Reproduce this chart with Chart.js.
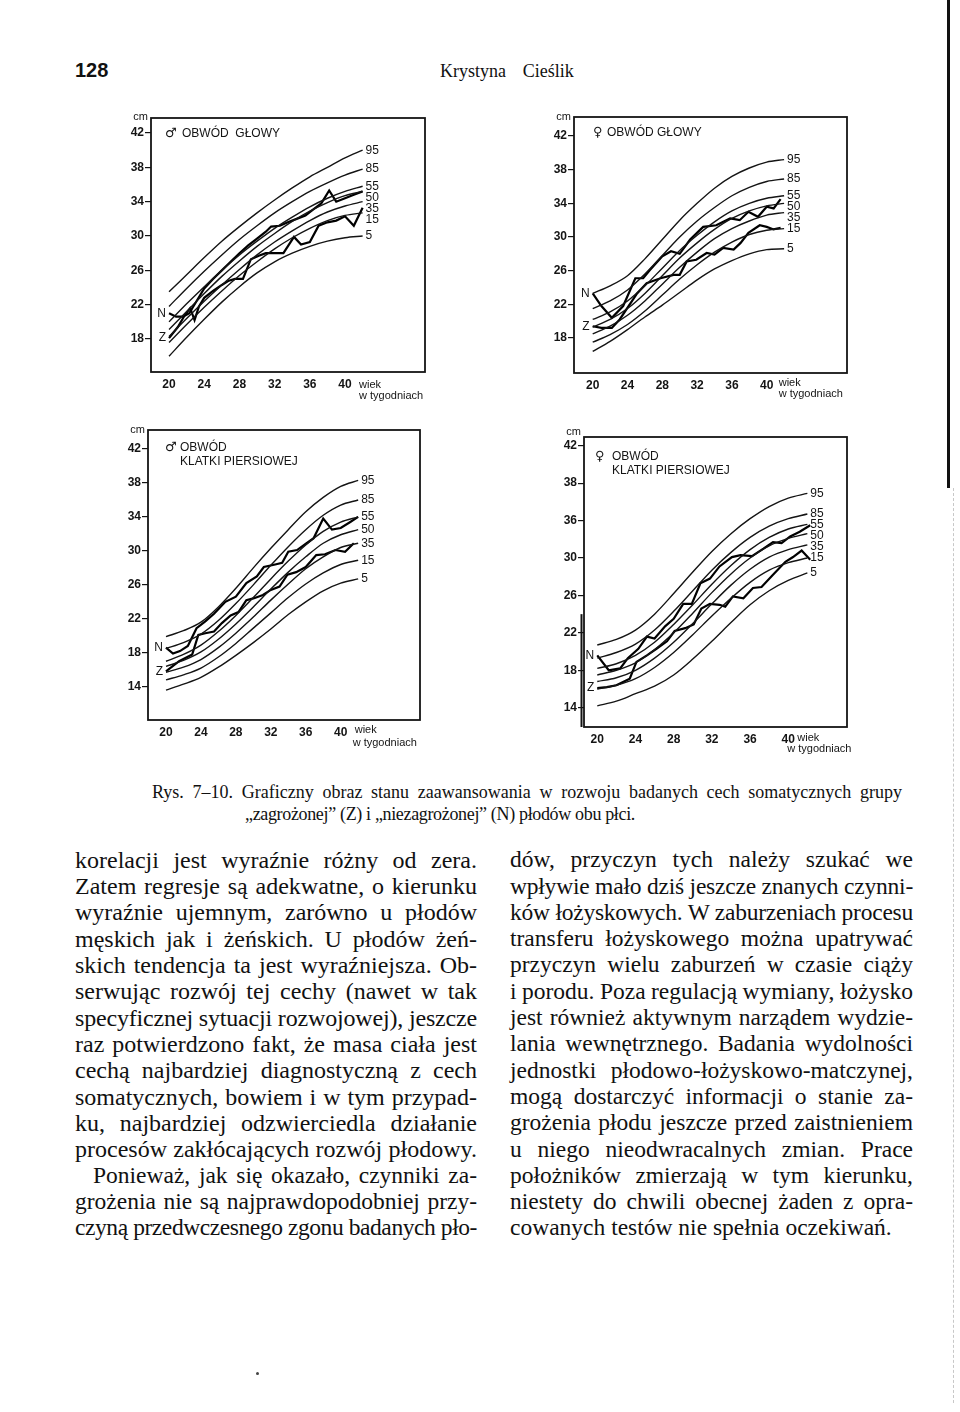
<!DOCTYPE html>
<html>
<head>
<meta charset="utf-8">
<script src="https://cdn.jsdelivr.net/npm/chart.js@4.4.0/dist/chart.umd.min.js"></script>
<style>
  body { margin: 0; width: 960px; height: 1412px; background: #fff; position: relative; overflow: hidden; color: #111; }
  canvas { position: absolute; }
  .t { position: absolute; white-space: nowrap; line-height: 1; }
  .serif { font-family: 'Liberation Serif', 'Times New Roman', serif; }
  .sans { font-family: 'Liberation Sans', Arial, sans-serif; }
</style>
</head>
<body>
<canvas id="maleHead"></canvas>
<canvas id="femaleHead"></canvas>
<canvas id="maleChest"></canvas>
<canvas id="femaleChest"></canvas>
<div style="position:absolute;left:947px;top:0;width:3px;height:488px;background:#111;"></div>
<div style="position:absolute;left:953px;top:488px;width:0;height:915px;border-left:1px dashed #c8c8c8;"></div>
<div style="position:absolute;left:256px;top:1372px;width:3px;height:3px;border-radius:2px;background:#444;"></div>
<script>
// ---- data ----
const weeks = [20, 22, 24, 26, 28, 30, 32, 34, 36, 38, 40, 42];
const percentiles = ['95', '85', '55', '50', '35', '15', '5'];
const xTicks = [20, 24, 28, 32, 36, 40];
const headTicks = [42, 38, 34, 30, 26, 22, 18];
const headTickLabels = ['42', '38', '34', '30', '26', '22', '18'];
const chestTicks = [42, 38, 34, 30, 26, 22, 18, 14];
const maleChestTickLabels = ['42', '38', '34', '30', '26', '22', '18', '14'];
const femaleChestTickLabels = ['42', '38', '36', '30', '26', '22', '18', '14'];

// percentile curves, one row per percentile (95..5), one value per week
const maleHeadCurves = [
  [23.5, 25.5, 27.5, 29.4, 31.1, 32.7, 34.2, 35.6, 36.9, 38.0, 39.1, 40.0],
  [21.8, 23.9, 25.9, 27.8, 29.6, 31.2, 32.7, 34.0, 35.2, 36.2, 37.1, 37.8],
  [20.0, 22.1, 24.1, 26.0, 27.8, 29.4, 30.9, 32.2, 33.4, 34.4, 35.2, 35.8],
  [19.1, 21.2, 23.3, 25.3, 27.1, 28.8, 30.3, 31.7, 32.9, 33.9, 34.7, 35.2],
  [18.3, 20.4, 22.4, 24.3, 26.1, 27.8, 29.3, 30.6, 31.8, 32.8, 33.5, 34.0],
  [17.6, 19.7, 21.7, 23.6, 25.4, 27.0, 28.5, 29.8, 30.9, 31.8, 32.4, 32.7],
  [16.0, 18.2, 20.3, 22.3, 24.1, 25.7, 27.0, 28.0, 28.8, 29.4, 29.8, 30.0]
];
const femaleHeadCurves = [
  [23.3, 24.2, 25.4, 27.4, 29.7, 32.0, 34.0, 35.8, 37.2, 38.2, 38.9, 39.2],
  [21.5, 22.4, 23.7, 25.6, 27.8, 30.0, 31.9, 33.5, 34.9, 35.9, 36.6, 36.9],
  [20.2, 21.1, 22.4, 24.2, 26.3, 28.4, 30.2, 31.8, 33.1, 34.0, 34.6, 34.9],
  [19.3, 20.2, 21.5, 23.3, 25.4, 27.5, 29.3, 30.9, 32.2, 33.1, 33.7, 34.0],
  [18.5, 19.4, 20.7, 22.4, 24.4, 26.4, 28.2, 29.8, 31.0, 31.9, 32.6, 32.9],
  [17.5, 18.4, 19.6, 21.2, 23.1, 25.0, 26.7, 28.2, 29.4, 30.3, 30.8, 31.0],
  [16.4, 17.6, 19.0, 20.5, 21.9, 23.4, 24.9, 26.2, 27.2, 28.0, 28.5, 28.6]
];
const maleChestCurves = [
  [19.9, 20.6, 21.6, 23.4, 25.6, 28.0, 30.3, 32.5, 34.6, 36.3, 37.6, 38.3],
  [18.5, 19.2, 20.2, 21.8, 23.8, 26.0, 28.3, 30.5, 32.5, 34.2, 35.4, 36.0],
  [17.0, 17.8, 18.9, 20.5, 22.4, 24.5, 26.7, 28.8, 30.7, 32.3, 33.4, 34.0],
  [16.4, 17.1, 18.1, 19.6, 21.4, 23.4, 25.5, 27.5, 29.3, 30.9, 31.9, 32.5],
  [15.7, 16.3, 17.2, 18.6, 20.3, 22.2, 24.2, 26.1, 27.9, 29.3, 30.4, 30.9],
  [14.8, 15.4, 16.2, 17.5, 19.1, 20.9, 22.7, 24.5, 26.1, 27.4, 28.4, 28.9],
  [13.6, 14.3, 15.1, 16.3, 17.7, 19.2, 20.8, 22.5, 24.0, 25.3, 26.2, 26.7]
];
const femaleChestCurves = [
  [20.7, 21.3, 22.3, 24.0, 26.2, 28.5, 30.7, 32.6, 34.2, 35.5, 36.4, 36.9],
  [19.3, 19.9, 20.8, 22.3, 24.3, 26.5, 28.7, 30.6, 32.2, 33.4, 34.2, 34.7],
  [18.2, 18.7, 19.6, 21.0, 22.9, 25.0, 27.2, 29.2, 30.9, 32.2, 33.1, 33.6],
  [17.5, 18.0, 18.8, 20.2, 22.0, 24.1, 26.3, 28.3, 30.0, 31.3, 32.1, 32.6],
  [16.8, 17.2, 18.0, 19.3, 21.0, 23.0, 25.1, 27.1, 28.8, 30.1, 30.9, 31.4],
  [16.0, 16.4, 17.1, 18.3, 19.9, 21.8, 23.8, 25.7, 27.4, 28.7, 29.5, 30.0],
  [14.2, 14.7, 15.5, 16.3, 17.5, 19.2, 21.1, 23.1, 25.0, 26.5, 27.6, 28.4]
];

// N (niezagrożona) and Z (zagrożona) groups: [week, cm]
const maleHeadN = [[20,21.0],[20.8,20.6],[21.6,20.6],[22.3,21.0],[23,22.2],[24,23.9],[25,25.0],[26,26.0],[27,27.0],[28,28.0],[29,28.9],[30,29.7],[31,30.5],[31.6,31.1],[32.6,31.2],[33.5,31.6],[34.5,32.0],[35.5,32.4],[36.4,33.1],[37.3,33.8],[38.2,35.3],[39,34.0],[40,34.4],[41,34.8],[42,35.2]];
const maleHeadZ = [[20,18.1],[21,19.4],[21.8,20.8],[22.4,21.6],[22.9,20.2],[23.4,21.8],[24,22.8],[25,23.6],[26,24.3],[26.8,24.8],[27.5,25.0],[28.4,25.0],[29.3,27.3],[30.2,27.7],[31,28.0],[32,28.0],[33,28.0],[34.2,29.9],[35,29.0],[36,29.3],[37,31.2],[38,31.6],[39,31.8],[40,32.3],[41,31.2],[42,33.3]];
const femaleHeadN = [[20,23.3],[21,21.8],[22.2,20.4],[23.5,21.8],[24.9,25.1],[25.8,25.1],[26.6,26.1],[28,27.7],[29,28.3],[30,28.0],[31.2,29.7],[32.7,31.2],[34.2,31.4],[35.8,32.2],[36.9,32.0],[37.9,33.0],[39,32.4],[40,33.6],[40.8,33.4],[41.6,34.5]];
const femaleHeadZ = [[20,19.4],[21,19.2],[22.2,19.2],[23.1,20.2],[25.1,23.3],[26.2,24.5],[27.8,25.1],[29.3,25.5],[30,25.5],[30.8,27.1],[31.9,27.3],[33.1,28.1],[34,27.9],[35,28.7],[36.2,28.5],[37,29.3],[37.9,30.5],[39.2,31.4],[40,31.2],[40.8,30.9],[41.6,31.1]];
const maleChestN = [[20,18.6],[20.8,17.9],[21.6,18.2],[22.5,18.8],[23.5,20.9],[24.5,21.7],[25.5,22.6],[26.8,24.0],[28,24.6],[29.2,26.2],[30.4,27.0],[31.2,28.1],[32.5,28.4],[33.3,28.6],[34,29.9],[35,30.1],[36.1,30.9],[36.9,31.5],[38,33.8],[39,32.5],[40,32.7],[41.1,33.4],[42,34.0]];
const maleChestZ = [[20,15.8],[21.5,17.0],[23,17.8],[23.7,20.1],[24.5,20.3],[25.5,20.5],[26.4,21.5],[27.4,22.4],[28.3,22.8],[29.2,24.2],[30,24.4],[31.1,24.8],[32,25.4],[33,25.8],[33.9,27.2],[34.9,27.5],[36,28.1],[37.2,29.5],[38.2,29.6],[39.4,30.1],[40.5,29.9],[41.5,30.9]];
const femaleChestN = [[20,19.6],[21.2,18.0],[22.4,18.2],[23.2,19.3],[24.3,20.3],[25.2,21.6],[26,21.4],[27.1,22.7],[28,23.5],[29,25.1],[29.9,25.1],[30.8,27.3],[31.8,27.8],[32.8,29.1],[34.1,30.1],[35,30.3],[36.2,30.2],[37.4,31.0],[38.4,31.7],[39.3,31.6],[40.2,32.3],[41.2,32.8],[42.3,33.5]];
const femaleChestZ = [[20,16.1],[21,16.2],[22,16.4],[23.4,17.1],[24.1,18.9],[25.2,19.6],[26.2,20.3],[27.3,21.1],[28.1,22.2],[29.2,22.5],[30.1,22.9],[30.9,24.6],[31.8,25.1],[32.8,25.0],[33.4,24.8],[34.2,25.9],[35.3,25.7],[36.3,26.8],[37.2,26.9],[38.4,28.2],[39.7,29.6],[40.5,30.1],[41.4,30.8],[42.3,29.8]];

// ---- layout ----
const Y_W = 40, PAD_TOP = 22, PAD_RIGHT = 50, X_H = 45;

// frame boxes and axis ranges matched to the scan
const charts = [
  { id: 'maleHead', frame: { l: 151, r: 425, t: 118, b: 372 }, x: [17.95, 49.09], y: [14.16, 43.75],
    yTicks: headTicks, yLabels: headTickLabels, curves: maleHeadCurves, n: maleHeadN, z: maleHeadZ,
    symbol: '♂', title: ['OBWÓD  GŁOWY'], symDx: 14, textDx: 31, titleDy: 16, cmDy: -1,
    wiekDx: 14, wiekDy: 13, tygDx: 14, tygDy: 24 },
  { id: 'femaleHead', frame: { l: 574, r: 847, t: 117, b: 373 }, x: [17.85, 49.23], y: [13.84, 44.26],
    yTicks: headTicks, yLabels: headTickLabels, curves: femaleHeadCurves, n: femaleHeadN, z: femaleHeadZ,
    symbol: '♀', title: ['OBWÓD GŁOWY'], symDx: 19, textDx: 33, titleDy: 16, cmDy: 0,
    wiekDx: 12, wiekDy: 10, tygDx: 12, tygDy: 21 },
  { id: 'maleChest', frame: { l: 148, r: 420, t: 430, b: 720 }, x: [17.94, 49.08], y: [10.08, 44.24],
    yTicks: chestTicks, yLabels: maleChestTickLabels, curves: maleChestCurves, n: maleChestN, z: maleChestZ,
    symbol: '♂', title: ['OBWÓD', 'KLATKI PIERSIOWEJ'], symDx: 17, textDx: 32, titleDy: 18, cmDy: 0,
    wiekDx: 14, wiekDy: 10, tygDx: 12, tygDy: 23 },
  { id: 'femaleChest', frame: { l: 584, r: 847, t: 437, b: 727 }, x: [18.61, 46.15], y: [11.94, 42.93],
    yTicks: chestTicks, yLabels: femaleChestTickLabels, curves: femaleChestCurves, n: femaleChestN, z: femaleChestZ,
    symbol: '♀', title: ['OBWÓD', 'KLATKI PIERSIOWEJ'], symDx: 11, textDx: 28, titleDy: 20, cmDy: -5,
    wiekDx: 9, wiekDy: 11, tygDx: -1, tygDy: 22, doubleLeft: 24 }
];

const INK = '#141414';
const SANS = '"Liberation Sans", Arial, sans-serif';

const overlay = {
  id: 'overlay',
  afterDraw(chart, args, o) {
    const ctx = chart.ctx, a = chart.chartArea;
    const xs = chart.scales.x, ys = chart.scales.y;
    ctx.save();
    ctx.strokeStyle = INK;
    ctx.lineWidth = 1.8;
    ctx.strokeRect(a.left, a.top, a.right - a.left, a.bottom - a.top);
    if (o.doubleLeft) {
      ctx.lineWidth = 2;
      ctx.beginPath();
      ctx.moveTo(a.left - 2.5, ys.getPixelForValue(o.doubleLeft));
      ctx.lineTo(a.left - 2.5, a.bottom);
      ctx.stroke();
    }
    ctx.fillStyle = INK;
    ctx.textBaseline = 'middle';

    // unit
    ctx.font = '11px ' + SANS;
    ctx.textAlign = 'right';
    ctx.fillText('cm', a.left - 3, a.top + o.cmDy);

    // x axis caption after the last tick
    ctx.textAlign = 'left';
    const x40 = xs.getPixelForValue(40);
    ctx.fillText('wiek', x40 + o.wiekDx, a.bottom + o.wiekDy);
    ctx.fillText('w tygodniach', x40 + o.tygDx, a.bottom + o.tygDy);

    // title
    ctx.font = '13px "DejaVu Sans", sans-serif';
    ctx.fillText(o.symbol, a.left + o.symDx, a.top + o.titleDy);
    ctx.font = '12px ' + SANS;
    o.title.forEach((line, i) => ctx.fillText(line, a.left + o.textDx, a.top + o.titleDy + i * 14));

    // percentile labels at the curve ends, spread so they do not overlap
    ctx.font = '12px ' + SANS;
    let prev = -Infinity;
    percentiles.forEach((lab, i) => {
      const pts = chart.data.datasets[i].data;
      const last = pts[pts.length - 1];
      let y = ys.getPixelForValue(last.y);
      if (y - prev < 11) y = prev + 11;
      prev = y;
      ctx.fillText(lab, xs.getPixelForValue(last.x) + 3, y);
    });

    // group labels at the start of N and Z
    ctx.font = '12px ' + SANS;
    ctx.textAlign = 'right';
    ['N', 'Z'].forEach((lab, k) => {
      const p = chart.data.datasets[percentiles.length + k].data[0];
      ctx.fillText(lab, xs.getPixelForValue(p.x) - 3, ys.getPixelForValue(p.y));
    });
    ctx.restore();
  }
};

Chart.defaults.font.family = SANS;
Chart.defaults.color = INK;

charts.forEach(c => {
  const canvas = document.getElementById(c.id);
  const f = c.frame;
  canvas.width = Y_W + (f.r - f.l) + PAD_RIGHT;
  canvas.height = PAD_TOP + (f.b - f.t) + X_H;
  canvas.style.left = (f.l - Y_W) + 'px';
  canvas.style.top = (f.t - PAD_TOP) + 'px';

  const datasets = c.curves.map(row => ({
    data: weeks.map((w, j) => ({ x: w, y: row[j] })),
    borderColor: INK, borderWidth: 1.4, pointRadius: 0,
    cubicInterpolationMode: 'monotone'
  }));
  [c.n, c.z].forEach(series => datasets.push({
    data: series.map(p => ({ x: p[0], y: p[1] })),
    borderColor: '#000', borderWidth: 2.2, pointRadius: 0, tension: 0
  }));

  new Chart(canvas, {
    type: 'line',
    data: { datasets },
    options: {
      responsive: false,
      animation: false,
      devicePixelRatio: 1,
      layout: { padding: { top: PAD_TOP, right: PAD_RIGHT, left: 0, bottom: 0 } },
      plugins: {
        legend: { display: false },
        tooltip: { enabled: false },
        overlay: c
      },
      scales: {
        x: {
          type: 'linear', min: c.x[0], max: c.x[1],
          afterBuildTicks: s => { s.ticks = xTicks.map(v => ({ value: v })); },
          afterFit: s => { s.height = X_H; },
          grid: { display: false, drawTicks: false },
          border: { display: false },
          ticks: { padding: 5, autoSkip: false, maxRotation: 0, font: { size: 12, weight: 'bold' } }
        },
        y: {
          type: 'linear', min: c.y[0], max: c.y[1],
          afterBuildTicks: s => { s.ticks = c.yTicks.map(v => ({ value: v })); },
          afterFit: s => { s.width = Y_W; },
          grid: { drawOnChartArea: false, drawTicks: true, tickLength: 6, color: INK, lineWidth: 1.2 },
          border: { display: false },
          ticks: {
            padding: 1, autoSkip: false, font: { size: 12, weight: 'bold' },
            callback: v => c.yLabels[c.yTicks.indexOf(v)]
          }
        }
      }
    },
    plugins: [overlay]
  });
});

// ---- page text ----
const pageNumber = '128';
const runningHead = 'Krystyna  Cieślik';
const captionLines = [
  'Rys. 7–10. Graficzny obraz stanu zaawansowania w rozwoju badanych cech somatycznych grupy',
  '„zagrożonej” (Z) i „niezagrożonej” (N) płodów obu płci.'
];
const leftColumn = [
  'korelacji jest wyraźnie różny od zera.',
  'Zatem regresje są adekwatne, o kierunku',
  'wyraźnie ujemnym, zarówno u płodów',
  'męskich jak i żeńskich. U płodów żeń-',
  'skich tendencja ta jest wyraźniejsza. Ob-',
  'serwując rozwój tej cechy (nawet w tak',
  'specyficznej sytuacji rozwojowej), jeszcze',
  'raz potwierdzono fakt, że masa ciała jest',
  'cechą najbardziej diagnostyczną z cech',
  'somatycznych, bowiem i w tym przypad-',
  'ku, najbardziej odzwierciedla działanie',
  'procesów zakłócających rozwój płodowy.',
  'Ponieważ, jak się okazało, czynniki za-',
  'grożenia nie są najprawdopodobniej przy-',
  'czyną przedwczesnego zgonu badanych pło-'
];
const rightColumn = [
  'dów, przyczyn tych należy szukać we',
  'wpływie mało dziś jeszcze znanych czynni-',
  'ków łożyskowych. W zaburzeniach procesu',
  'transferu łożyskowego można upatrywać',
  'przyczyn wielu zaburzeń w czasie ciąży',
  'i porodu. Poza regulacją wymiany, łożysko',
  'jest również aktywnym narządem wydzie-',
  'lania wewnętrznego. Badania wydolności',
  'jednostki płodowo-łożyskowo-matczynej,',
  'mogą dostarczyć informacji o stanie za-',
  'grożenia płodu jeszcze przed zaistnieniem',
  'u niego nieodwracalnych zmian. Prace',
  'położników zmierzają w tym kierunku,',
  'niestety do chwili obecnej żaden z opra-',
  'cowanych testów nie spełnia oczekiwań.'
];

function addText(text, x, baseline, size, cls, width) {
  const d = document.createElement('div');
  d.className = 't ' + cls;
  d.style.fontSize = size + 'px';
  d.style.left = x + 'px';
  d.style.top = (baseline - 0.84 * size) + 'px';
  const s = document.createElement('span');
  s.textContent = text;
  d.appendChild(s);
  document.body.appendChild(d);
  if (width) {
    const w = s.getBoundingClientRect().width;
    const gaps = (text.match(/ /g) || []).length;
    const extra = width - w;
    if (gaps && extra / gaps > -1.5) {
      d.style.wordSpacing = (extra / gaps) + 'px';
    } else {
      d.style.letterSpacing = (extra / text.length) + 'px';
    }
  }
  return d;
}

const t1 = addText(pageNumber, 75, 77, 20, 'sans', null);
t1.style.fontWeight = 'bold';
addText(runningHead, 440, 77, 18, 'serif', 146);

addText(captionLines[0], 152, 798, 18, 'serif', 750);
addText(captionLines[1], 245, 820, 18, 'serif', 390);

const LEAD = 26.3, FIRST = 868;
leftColumn.forEach((line, i) => {
  const indent = i === 12 ? 18 : 0;
  const size = i < 12 ? 24 : 23.5;
  addText(line, 75 + indent, FIRST + i * LEAD, size, 'serif', 402 - indent);
});
rightColumn.forEach((line, i) => {
  const last = i === rightColumn.length - 1;
  addText(line, 510, FIRST + i * LEAD, 23.5, 'serif', last ? null : 403);
});
</script>
</body>
</html>
